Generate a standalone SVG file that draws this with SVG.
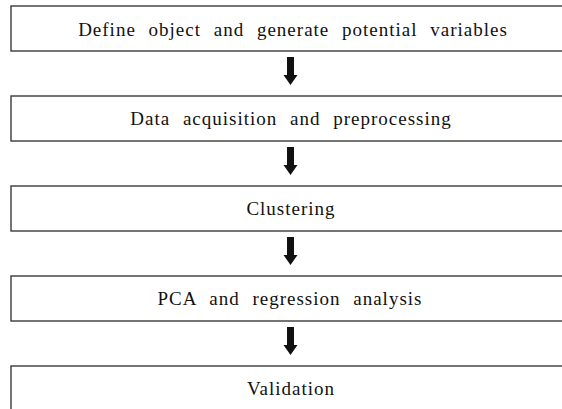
<svg xmlns="http://www.w3.org/2000/svg" width="562" height="409" viewBox="0 0 562 409">
<style>
.box{fill:#fff;stroke:#3a3a3a;stroke-width:1.4}
.lbl{font-family:'Liberation Serif','Times New Roman',serif;font-size:19px;fill:#111;text-anchor:middle;letter-spacing:1px;word-spacing:7px}
.arr{fill:#111}
</style>
<defs>
<path id="down" d="M-3.5,0 H3.5 V18 H7 L0,28 L-7,18 H-3.5 Z"/>
</defs>
<rect width="562" height="409" fill="#fff"/>
<g id="n1"><rect class="box" x="11" y="6" width="570" height="45"/><text class="lbl" x="293" y="35.5">Define object and generate potential variables</text></g>
<g id="n2"><rect class="box" x="11" y="96" width="570" height="45"/><text class="lbl" x="291" y="125">Data acquisition and preprocessing</text></g>
<g id="n3"><rect class="box" x="11" y="186" width="570" height="45"/><text class="lbl" x="291" y="215">Clustering</text></g>
<g id="n4"><rect class="box" x="11" y="276" width="570" height="45"/><text class="lbl" x="290" y="305">PCA and regression analysis</text></g>
<g id="n5"><rect class="box" x="11" y="366" width="570" height="45"/><text class="lbl" x="291" y="395">Validation</text></g>
<g id="connectors" class="arr">
<use href="#down" x="290.5" y="57"/>
<use href="#down" x="290.5" y="147"/>
<use href="#down" x="290.5" y="237"/>
<use href="#down" x="290.5" y="327"/>
</g>
</svg>
